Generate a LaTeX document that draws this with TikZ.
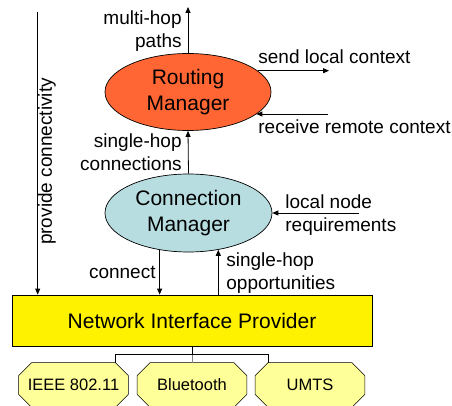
\documentclass[tikz,border=0pt]{standalone}
\usepackage{fontspec}
\setmainfont{Liberation Sans}
\usepackage{tikz}
\usetikzlibrary{shapes.geometric, arrows.meta, calc, backgrounds}
\definecolor{routeorange}{RGB}{255,102,51}
\definecolor{connblue}{RGB}{183,221,225}
\definecolor{radioyellow}{RGB}{255,255,153}

\begin{document}
\begin{tikzpicture}[x=1pt, y=-1pt, line width=0.8pt,
    every node/.style={inner sep=0pt},
    mgr/.style={ellipse, draw, line width=0.7pt, align=center, font=\fontsize{21}{26}\selectfont},
    lbl/.style={font=\fontsize{19}{23}\selectfont},
    arr/.style={-{Triangle[length=6pt, width=5pt]}},
    radio/.style={minimum width=109, minimum height=44, font=\fontsize{16.5}{20}\selectfont}]
    \useasboundingbox (0,0) rectangle (452,406);

    % Managers and provider
    \node[mgr, fill=routeorange, minimum width=166, minimum height=77] (rm) at (188,92) {Routing\\Manager};
    \node[mgr, fill=connblue, minimum width=167, minimum height=78] (cm) at (188.5,213) {Connection\\Manager};
    \node[draw, fill=yellow, minimum width=360, minimum height=51, font=\fontsize{21}{25}\selectfont] (npi) at (192,320.5) {Network Interface Provider};

    % Radio interfaces
    \node[radio] (ieee) at (73.5,385) {IEEE 802.11};
    \node[radio] (bt) at (192,385) {Bluetooth};
    \node[radio] (umts) at (310,385) {UMTS};
    \begin{scope}[on background layer]
        \foreach \r in {ieee,bt,umts} {
            \draw[fill=radioyellow, line width=0.6pt]
                ($(\r.north west)+(13,0)$) -- ($(\r.north east)+(-13,0)$) -- ($(\r.north east)+(0,13)$)
                -- ($(\r.south east)+(0,-13)$) -- ($(\r.south east)+(-13,0)$) -- ($(\r.south west)+(13,0)$)
                -- ($(\r.south west)+(0,-13)$) -- ($(\r.north west)+(0,13)$) -- cycle;
        }
    \end{scope}

    % Tree from provider to interfaces
    \coordinate (bus) at ($(npi.south)+(0,8)$);
    \draw[line width=0.7pt] (npi.south) -- (bus);
    \draw[line width=0.7pt] (bus) -| ($(ieee.north)+(41.5,0)$);
    \draw[line width=0.7pt, gray] (bus) -- (bt.north);
    \draw[line width=0.7pt] (bus) -| ($(umts.north)+(-41.5,0)$);

    % Free ends
    \coordinate (mhtop) at (188,7);
    \coordinate (sendend) at (329,71);
    \coordinate (recvstart) at (328,114);
    \coordinate (reqstart) at (359,213);
    \coordinate (pctop) at (37.7,12);

    % Connectors
    \draw[arr] (rm.north) -- (mhtop);
    \draw[arr] (cm.north) -- (rm.south);
    \draw[arr] (rm.17) -- (rm.17 -| sendend);
    \draw[arr] (recvstart) -- (rm.-18 |- recvstart);
    \draw[arr] (reqstart) -- (cm.east);
    \draw[arr] (cm.232) -- (cm.232 |- npi.north);
    \draw[arr] (cm.-51 |- npi.north) -- (cm.-51);
    \draw[arr] (pctop) -- (pctop |- npi.north);

    % Labels
    \node[lbl, align=right, anchor=east] (mhlbl) at (182,31.5) {multi-hop\\paths};
    \node[lbl, align=right, anchor=east] (shclbl) at (182,152.5) {single-hop\\connections};
    \node[lbl, anchor=west] (sendlbl) at (258,57) {send local context};
    \node[lbl, anchor=west] (recvlbl) at (258,127) {receive remote context};
    \node[lbl, align=left, anchor=west] (reqlbl) at (285,215) {local node\\requirements};
    \node[lbl, anchor=east] (connlbl) at (156,272) {connect};
    \node[lbl, align=left, anchor=west] (sholbl) at (226,273.5) {single-hop\\opportunities};
    \node[lbl, rotate=90] (pclbl) at (47,161.5) {provide connectivity};
\end{tikzpicture}
\end{document}
